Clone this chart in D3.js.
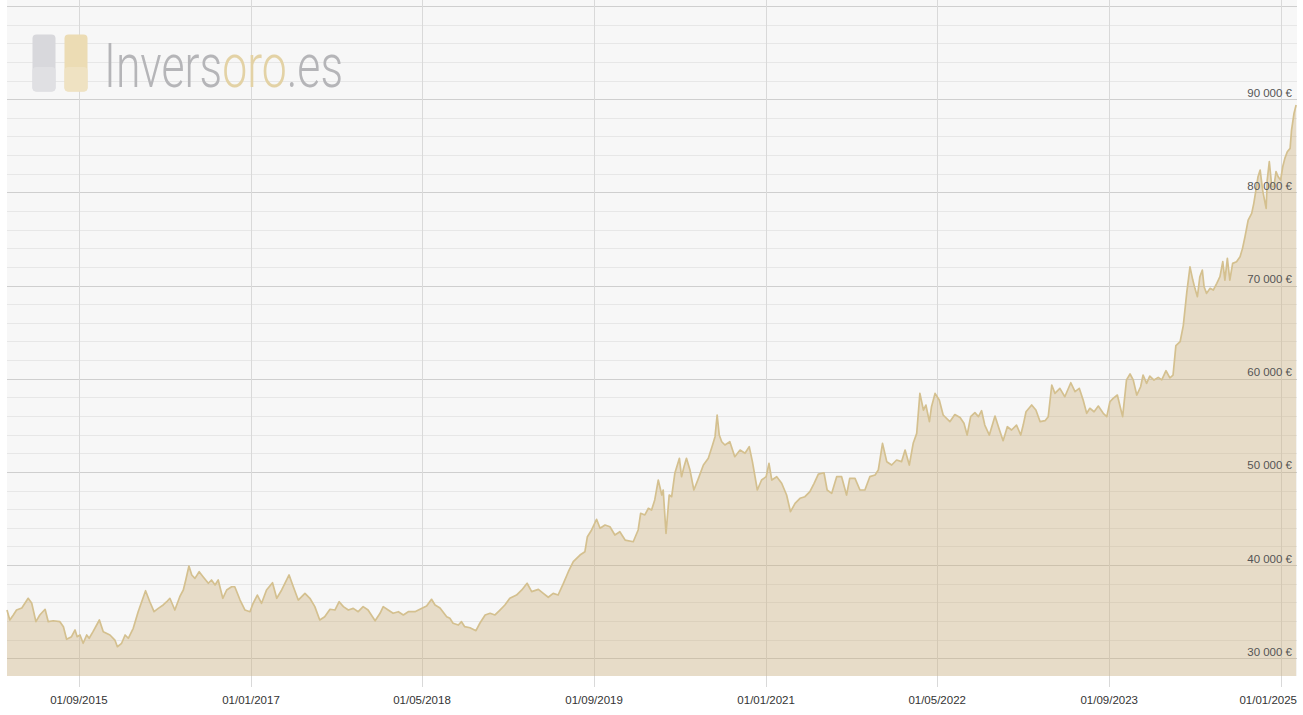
<!DOCTYPE html>
<html><head><meta charset="utf-8">
<script src="https://cdn.jsdelivr.net/npm/d3@7"></script>
<style>body{margin:0;background:#fff;} svg{display:block;font-family:"Liberation Sans",Arial,sans-serif;}</style>
</head><body><svg id="c" width="1303" height="715"></svg>
<script>
const dates = ["2015-02-09","2015-02-17","2015-02-27","2015-03-08","2015-03-23","2015-04-10","2015-04-20","2015-05-02","2015-05-13","2015-05-28","2015-06-06","2015-06-20","2015-07-09","2015-07-19","2015-07-28","2015-08-11","2015-08-21","2015-08-27","2015-09-04","2015-09-13","2015-09-23","2015-09-30","2015-10-11","2015-10-29","2015-11-09","2015-11-28","2015-12-12","2015-12-19","2015-12-31","2016-01-10","2016-01-19","2016-02-02","2016-02-16","2016-03-08","2016-03-20","2016-04-01","2016-04-13","2016-04-27","2016-05-07","2016-05-16","2016-05-30","2016-06-13","2016-06-23","2016-06-30","2016-07-09","2016-07-17","2016-07-26","2016-08-07","2016-08-18","2016-09-02","2016-09-11","2016-09-21","2016-09-30","2016-10-13","2016-10-24","2016-11-07","2016-11-16","2016-12-01","2016-12-15","2016-12-29","2017-01-07","2017-01-19","2017-01-31","2017-02-14","2017-03-03","2017-03-15","2017-03-29","2017-04-19","2017-05-01","2017-05-15","2017-06-03","2017-06-17","2017-07-01","2017-07-15","2017-07-29","2017-08-13","2017-08-27","2017-09-08","2017-09-20","2017-10-04","2017-10-18","2017-11-01","2017-11-15","2017-11-29","2017-12-19","2018-01-02","2018-01-11","2018-01-25","2018-02-08","2018-02-23","2018-03-09","2018-03-23","2018-04-11","2018-04-25","2018-05-14","2018-05-28","2018-06-07","2018-06-21","2018-07-10","2018-07-19","2018-07-28","2018-08-12","2018-08-21","2018-08-30","2018-09-14","2018-10-01","2018-10-12","2018-10-27","2018-11-10","2018-11-24","2018-12-08","2018-12-22","2019-01-05","2019-01-24","2019-02-08","2019-02-23","2019-03-08","2019-03-27","2019-04-10","2019-04-24","2019-05-08","2019-05-22","2019-06-06","2019-06-20","2019-07-04","2019-07-23","2019-08-06","2019-08-13","2019-08-25","2019-09-08","2019-09-18","2019-10-02","2019-10-16","2019-10-30","2019-11-13","2019-11-28","2019-12-21","2020-01-04","2020-01-11","2020-01-23","2020-02-02","2020-02-11","2020-02-20","2020-03-01","2020-03-11","2020-03-15","2020-03-23","2020-04-01","2020-04-08","2020-04-17","2020-04-30","2020-05-06","2020-05-13","2020-05-20","2020-05-30","2020-06-10","2020-06-23","2020-07-07","2020-07-21","2020-08-02","2020-08-09","2020-08-15","2020-08-21","2020-08-28","2020-09-06","2020-09-20","2020-10-04","2020-10-19","2020-11-02","2020-11-14","2020-11-23","2020-12-07","2020-12-19","2021-01-01","2021-01-09","2021-01-17","2021-01-31","2021-02-14","2021-02-28","2021-03-11","2021-03-24","2021-04-07","2021-04-21","2021-05-05","2021-05-17","2021-05-29","2021-06-14","2021-06-23","2021-07-06","2021-07-20","2021-08-03","2021-08-17","2021-08-26","2021-09-10","2021-09-24","2021-10-08","2021-10-22","2021-11-06","2021-11-15","2021-11-27","2021-12-09","2021-12-23","2022-01-06","2022-01-20","2022-01-30","2022-02-11","2022-02-22","2022-03-04","2022-03-13","2022-03-23","2022-03-30","2022-04-09","2022-04-15","2022-04-25","2022-05-07","2022-05-18","2022-06-06","2022-06-20","2022-07-05","2022-07-16","2022-07-25","2022-08-04","2022-08-16","2022-08-26","2022-09-04","2022-09-13","2022-09-26","2022-10-12","2022-10-24","2022-11-04","2022-11-16","2022-11-28","2022-12-12","2022-12-24","2022-12-31","2023-01-08","2023-01-24","2023-02-05","2023-02-17","2023-03-03","2023-03-12","2023-03-22","2023-03-31","2023-04-14","2023-04-28","2023-05-15","2023-05-27","2023-06-08","2023-06-19","2023-06-29","2023-07-08","2023-07-20","2023-08-01","2023-08-15","2023-08-25","2023-09-03","2023-09-12","2023-09-24","2023-10-02","2023-10-09","2023-10-20","2023-10-30","2023-11-08","2023-11-18","2023-11-29","2023-12-06","2023-12-16","2023-12-25","2024-01-06","2024-01-18","2024-01-28","2024-02-09","2024-02-20","2024-02-29","2024-03-08","2024-03-20","2024-03-29","2024-04-08","2024-04-17","2024-04-25","2024-05-01","2024-05-08","2024-05-15","2024-05-22","2024-05-27","2024-06-03","2024-06-13","2024-06-22","2024-07-02","2024-07-11","2024-07-19","2024-07-25","2024-08-01","2024-08-08","2024-08-16","2024-08-27","2024-09-06","2024-09-13","2024-09-20","2024-09-29","2024-10-09","2024-10-15","2024-10-21","2024-10-27","2024-11-02","2024-11-09","2024-11-19","2024-11-22","2024-11-28","2024-12-05","2024-12-11","2024-12-17","2024-12-23","2024-12-30","2025-01-05","2025-01-11","2025-01-18","2025-01-26","2025-01-30","2025-02-06","2025-02-12"];
const values = [35180,34110,34650,35180,35400,36440,35930,33930,34650,35260,33930,34030,33930,33390,32040,32320,33040,32320,32500,31610,32500,32150,32860,34110,32860,32500,31960,31240,31610,32500,32150,33220,35000,37250,36070,35000,35360,35720,36070,36440,35180,36610,37330,38400,39900,38940,38580,39290,38760,38050,38400,37870,38400,36440,37330,37680,37680,36250,35180,35000,35900,36790,35900,37330,38110,36440,37330,38940,37680,36250,36970,36440,35540,34110,34460,35260,35180,36070,35540,35180,35360,35000,35540,35180,34030,34830,35540,35180,34830,35000,34650,35000,35000,35260,35610,36330,35720,35400,34460,34290,33760,33570,33930,33390,33280,32960,33760,34650,34830,34650,35180,35720,36440,36790,37330,38050,37150,37400,36970,36550,36970,36790,38050,39290,40370,41080,41440,43050,43770,44920,43950,44300,44120,43230,43580,42690,42510,43770,45560,45380,46100,45910,46990,49130,47520,48060,43410,47520,47340,49850,51460,49490,50560,51460,50200,48060,49310,50740,51460,52890,53780,56110,53960,53240,52890,53240,51630,52350,52000,52710,51100,48060,49130,49490,50920,49130,49490,48780,47520,45730,46630,47170,47340,47880,48780,49770,49910,48060,47700,49490,49490,47520,49310,49310,48060,48060,49490,49670,50200,53070,51100,50740,51280,51100,52350,50740,53070,54140,58430,56640,57180,55390,57000,58430,57720,56110,55390,56160,55840,55220,53960,55930,56360,55930,56570,55030,53960,56000,54570,53350,54850,54500,55030,53960,55030,56460,57180,56640,55390,55500,55930,59330,58430,58970,58070,59570,58610,58970,57720,56290,56830,56460,57070,56290,55930,57530,57900,58250,57000,55930,59880,60510,59880,58250,59140,60400,59510,60290,59860,60150,59880,60860,60100,60400,63550,63970,65700,69300,72000,70590,69700,68800,70950,71660,69870,69160,69700,69520,70240,70950,72560,70590,72920,70590,72380,72560,73090,73990,75240,77030,77750,78820,80250,81680,82390,80250,78280,81320,83290,80610,80610,82220,81680,81320,82750,83650,84360,84720,86690,88480,89370];
const xTickDates = ["2015-09-01","2017-01-01","2018-05-01","2019-09-01","2021-01-01","2022-05-01","2023-09-01","2025-01-01"];
const xTickLabels = ["01/09/2015","01/01/2017","01/05/2018","01/09/2019","01/01/2021","01/05/2022","01/09/2023","01/01/2025"];
const yLabelTicks = [30000,40000,50000,60000,70000,80000,90000];
const yGridStep = 2000;
const yDomain = [28100, 100000];
const xDomain = ["2015-02-09","2025-02-14"];
const logoParts = [["Invers", "#b5b5b8"], ["oro", "#e3d2a5"], [".es", "#b5b5b8"]];

const parse = d3.timeParse("%Y-%m-%d");
const data = d3.zip(dates, values).map(([d, v]) => ({date: parse(d), value: v}));

const L = 7, R = 1297, T = 6, B = 676;
const svg = d3.select("#c");
const x = d3.scaleTime().domain([parse(xDomain[0]), d3.timeHour.offset(parse(xDomain[1]), 12)]).range([L, R]);
const y = d3.scaleLinear().domain(yDomain).range([B, T]);

svg.append("rect").attr("x", L).attr("y", 0).attr("width", R - L).attr("height", B).attr("fill", "#f7f7f7");

// horizontal gridlines
const gridVals = d3.range(30000, yDomain[1] + 1, yGridStep);
svg.append("g").selectAll("line").data(gridVals).join("line")
  .attr("x1", L).attr("x2", R)
  .attr("y1", d => Math.round(y(d)) + 0.5).attr("y2", d => Math.round(y(d)) + 0.5)
  .attr("stroke", d => d % 10000 === 0 ? "#cfcfcf" : "#e7e7e7")
  .attr("stroke-width", 1);

// vertical gridlines
const xt = xTickDates.map(parse);
svg.append("g").selectAll("line").data(xt).join("line")
  .attr("x1", d => Math.round(x(d)) + 0.5).attr("x2", d => Math.round(x(d)) + 0.5)
  .attr("y1", 0).attr("y2", 687)
  .attr("stroke", "#d9d9d9").attr("stroke-width", 1);

// logo watermark
const logo = svg.append("g");
logo.append("rect").attr("x", 32.5).attr("y", 34.5).attr("width", 23).attr("height", 57).attr("rx", 4).attr("fill", "#d8d8dc");
logo.append("rect").attr("x", 32.5).attr("y", 67).attr("width", 23).attr("height", 24.5).attr("rx", 4).attr("fill", "#e0e0e3");
logo.append("rect").attr("x", 64.5).attr("y", 34.5).attr("width", 23).attr("height", 57).attr("rx", 4).attr("fill", "#ecdcb4");
logo.append("rect").attr("x", 64.5).attr("y", 67).attr("width", 23).attr("height", 24.5).attr("rx", 4).attr("fill", "#efe2c2");
const lg = logo.append("g");
let cx = 0;
logoParts.forEach(([s, c]) => {
  const t = lg.append("text").attr("x", cx).attr("y", 0)
    .attr("font-family", "Roboto, 'Open Sans', sans-serif").attr("font-weight", 300)
    .attr("font-size", 62).attr("fill", c).text(s);
  cx += t.node().getComputedTextLength();
});
const sx = 239 / cx;
lg.attr("transform", `translate(104,87) scale(${sx},1)`);

// area + line
const area = d3.area().x(d => x(d.date)).y0(B).y1(d => y(d.value));
const line = d3.line().x(d => x(d.date)).y(d => y(d.value));
svg.append("path").datum(data).attr("d", area).attr("fill", "#c9ad74").attr("fill-opacity", 0.36);
svg.append("path").datum(data).attr("d", line).attr("fill", "none").attr("stroke", "#d4c08f").attr("stroke-width", 1.7).attr("stroke-linejoin", "round");

// y labels
const fmt = v => d3.format(",")(v).replace(/,/g, " ") + " €";
svg.append("g").selectAll("text").data(yLabelTicks).join("text")
  .attr("x", 1292).attr("y", d => y(d) - 2.5)
  .attr("text-anchor", "end").attr("font-size", 11.5).attr("fill", "#555")
  .text(fmt);

// x labels
const xl = svg.append("g").selectAll("text").data(xt).join("text")
  .attr("x", d => x(d)).attr("y", 704)
  .attr("text-anchor", "middle").attr("font-size", 11.5).attr("fill", "#333")
  .text((d, i) => xTickLabels[i]);
xl.each(function() {
  const bb = this.getBBox();
  if (bb.x + bb.width > R) d3.select(this).attr("text-anchor", "end").attr("x", R);
});
</script></body></html>
